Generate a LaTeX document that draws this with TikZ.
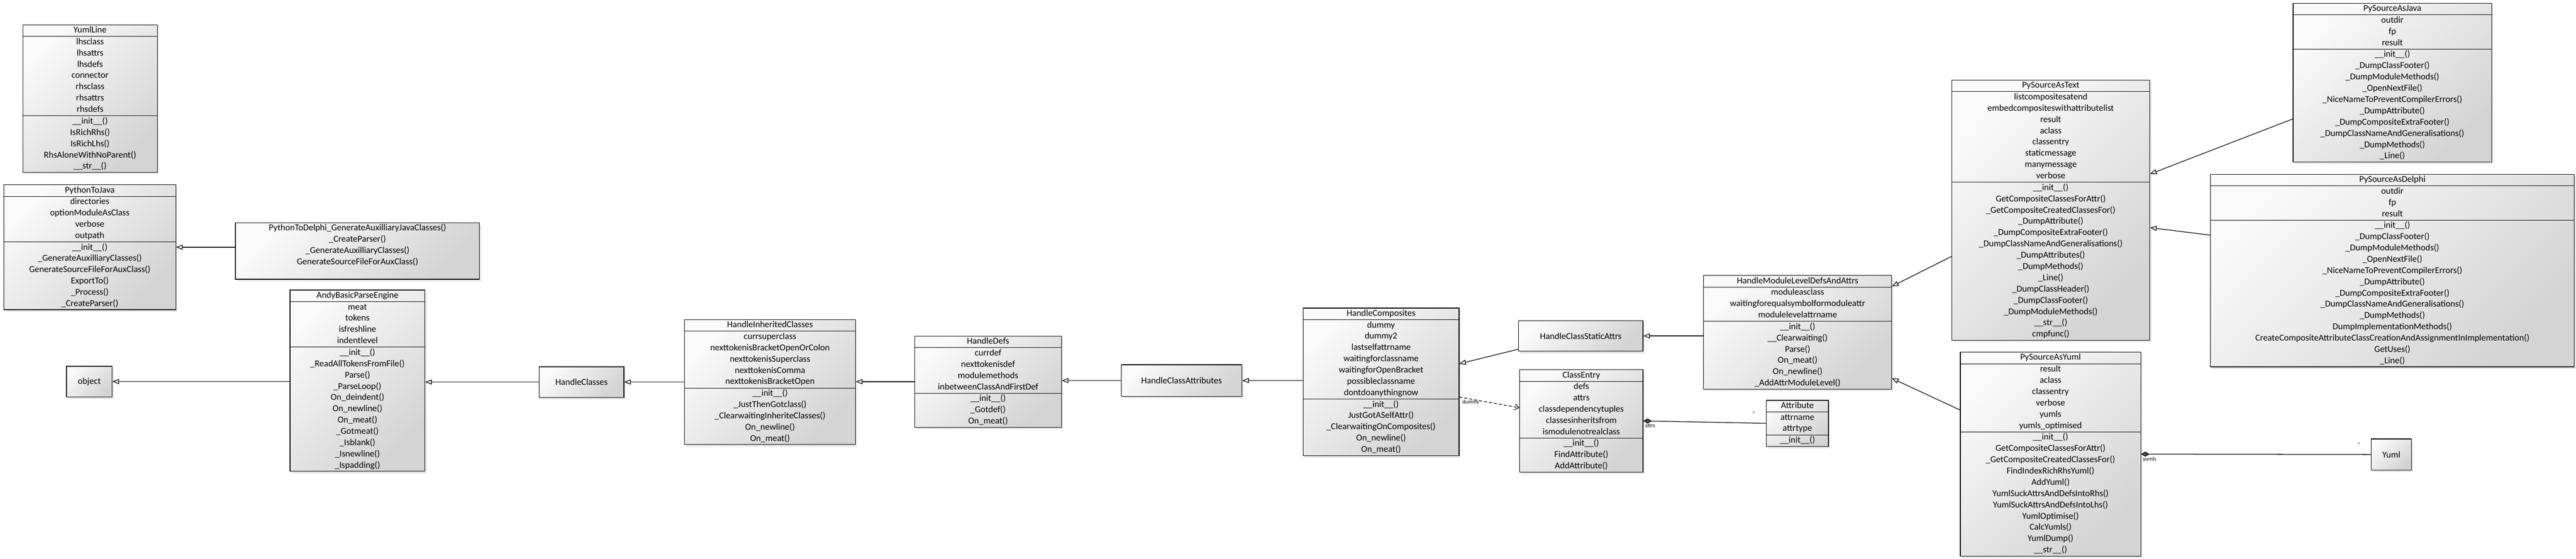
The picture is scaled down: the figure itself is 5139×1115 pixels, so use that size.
\documentclass[tikz,border=0pt]{standalone}
\usepackage{fontspec}
\setmainfont{Carlito}
\usepackage{array}
\usepackage{tikz}
\usetikzlibrary{arrows.meta,shadows}
\hyphenpenalty=10000
\exhyphenpenalty=10000
\newcommand{\cls}[2]{\begin{tabular}{@{}>{\centering\arraybackslash}p{#1}@{}}#2\end{tabular}}

\begin{document}
\begin{tikzpicture}[x=0.5pt,y=-0.5pt,line width=0.65pt,
		cbox/.style={draw, anchor=north west, inner sep=0pt, top color=black!2, bottom color=black!17, shading angle=45,
			drop shadow={opacity=0.22,shadow xshift=1.5pt,shadow yshift=-2pt}, font=\fontsize{9}{11.25}\selectfont},
		lbl/.style={inner sep=0.5pt, font=\fontsize{5.5}{6}\selectfont},
		isa/.style={-{Triangle[open,length=6.5pt,width=5pt]}},
		dep/.style={dash pattern=on 3pt off 2pt, -{Straight Barb[length=4pt,width=6pt]}},
		has/.style={{Diamond[length=8.5pt,width=5pt,fill=black!70]}-}]
	\useasboundingbox (0,0) rectangle (5139,1115);
	\node[cbox] (yline) at (45,49) {\cls{134pt}{YumlLine\\\hline lhsclass\\lhsattrs\\lhsdefs\\connector\\rhsclass\\rhsattrs\\rhsdefs\\\hline
		\_\_init\_\_()\\IsRichRhs()\\IsRichLhs()\\RhsAloneWithNoParent()\\\_\_str\_\_()}};
	\node[cbox] (ptj) at (7,368) {\cls{171.5pt}{PythonToJava\\\hline directories\\optionModuleAsClass\\verbose\\outpath\\\hline
		\_\_init\_\_()\\\_GenerateAuxilliaryClasses()\\GenerateSourceFileForAuxClass()\\ExportTo()\\\_Process()\\\_CreateParser()}};
	\node[cbox] (ptd) at (469,444) {\cls{243.5pt}{PythonToDelphi\_GenerateAuxilliaryJavaClasses()\\\_CreateParser()\\\_GenerateAuxilliaryClasses()\\GenerateSourceFileForAuxClass()\\ ~}};
	\node[cbox, minimum width=45.5pt, minimum height=30.5pt] (obj) at (132,730) {object};
	\node[cbox] (andy) at (578,578) {\cls{134.5pt}{AndyBasicParseEngine\\\hline meat\\tokens\\isfreshline\\indentlevel\\\hline
		\_\_init\_\_()\\\_ReadAllTokensFromFile()\\Parse()\\\_ParseLoop()\\On\_deindent()\\On\_newline()\\On\_meat()\\\_Gotmeat()\\\_Isblank()\\\_Isnewline()\\\_Ispadding()}};
	\node[cbox, minimum width=84.5pt, minimum height=30.5pt] (hcls) at (1075,731) {HandleClasses};
	\node[cbox] (hinh) at (1365,637) {\cls{170.5pt}{HandleInheritedClasses\\\hline currsuperclass\\nexttokenisBracketOpenOrColon\\nexttokenisSuperclass\\nexttokenisComma\\nexttokenisBracketOpen\\\hline
		\_\_init\_\_()\\\_JustThenGotclass()\\\_ClearwaitingInheriteClasses()\\On\_newline()\\On\_meat()}};
	\node[cbox] (hdefs) at (1824,670) {\cls{146.5pt}{HandleDefs\\\hline currdef\\nexttokenisdef\\modulemethods\\inbetweenClassAndFirstDef\\\hline
		\_\_init\_\_()\\\_Gotdef()\\On\_meat()}};
	\node[cbox, minimum width=120.5pt, minimum height=31.5pt] (hattrs) at (2236,727) {HandleClassAttributes};
	\node[cbox] (hcomp) at (2599,614) {\cls{155.5pt}{HandleComposites\\\hline dummy\\dummy2\\lastselfattrname\\waitingforclassname\\waitingforOpenBracket\\possibleclassname\\dontdoanythingnow\\\hline
		\_\_init\_\_()\\JustGotASelfAttr()\\\_ClearwaitingOnComposites()\\On\_newline()\\On\_meat()}};
	\node[cbox, minimum width=124pt, minimum height=30.5pt] (hstatic) at (3029,639) {HandleClassStaticAttrs};
	\node[cbox] (centry) at (3031,737) {\cls{123pt}{ClassEntry\\\hline defs\\attrs\\classdependencytuples\\classesinheritsfrom\\ismodulenotrealclass\\\hline
		\_\_init\_\_()\\FindAttribute()\\AddAttribute()}};
	\node[cbox] (attr) at (3523,798) {\cls{62pt}{Attribute\\\hline attrname\\attrtype\\\hline \_\_init\_\_()}};
	\node[cbox] (hml) at (3398,549) {\cls{187.5pt}{HandleModuleLevelDefsAndAttrs\\\hline moduleasclass\\waitingforequalsymbolformoduleattr\\modulelevelattrname\\\hline
		\_\_init\_\_()\\\_\_Clearwaiting()\\Parse()\\On\_meat()\\On\_newline()\\\_AddAttrModuleLevel()}};
	\node[cbox] (htext) at (3893,159) {\cls{197.5pt}{PySourceAsText\\\hline listcompositesatend\\embedcompositeswithattributelist\\result\\aclass\\classentry\\staticmessage\\manymessage\\verbose\\\hline
		\_\_init\_\_()\\GetCompositeClassesForAttr()\\\_GetCompositeCreatedClassesFor()\\\_DumpAttribute()\\\_DumpCompositeExtraFooter()\\\_DumpClassNameAndGeneralisations()\\\_DumpAttributes()\\\_DumpMethods()\\\_Line()\\\_DumpClassHeader()\\\_DumpClassFooter()\\\_DumpModuleMethods()\\\_\_str\_\_()\\cmpfunc()}};
	\node[cbox] (java) at (4574,6) {\cls{198pt}{PySourceAsJava\\\hline outdir\\fp\\result\\\hline
		\_\_init\_\_()\\\_DumpClassFooter()\\\_DumpModuleMethods()\\\_OpenNextFile()\\\_NiceNameToPreventCompilerErrors()\\\_DumpAttribute()\\\_DumpCompositeExtraFooter()\\\_DumpClassNameAndGeneralisations()\\\_DumpMethods()\\\_Line()}};
	\node[cbox] (delphi) at (4409,347) {\cls{363pt}{PySourceAsDelphi\\\hline outdir\\fp\\result\\\hline
		\_\_init\_\_()\\\_DumpClassFooter()\\\_DumpModuleMethods()\\\_OpenNextFile()\\\_NiceNameToPreventCompilerErrors()\\\_DumpAttribute()\\\_DumpCompositeExtraFooter()\\\_DumpClassNameAndGeneralisations()\\\_DumpMethods()\\DumpImplementationMethods()\\CreateCompositeAttributeClassCreationAndAssignmentInImplementation()\\GetUses()\\\_Line()}};
	\node[cbox] (hyuml) at (3910,702) {\cls{180pt}{PySourceAsYuml\\\hline result\\aclass\\classentry\\verbose\\yumls\\yumls\_optimised\\\hline
		\_\_init\_\_()\\GetCompositeClassesForAttr()\\\_GetCompositeCreatedClassesFor()\\FindIndexRichRhsYuml()\\AddYuml()\\YumlSuckAttrsAndDefsIntoRhs()\\YumlSuckAttrsAndDefsIntoLhs()\\YumlOptimise()\\CalcYumls()\\YumlDump()\\\_\_str\_\_()}};
	\node[cbox, minimum width=40pt, minimum height=31pt] (yuml) at (4730,875) {Yuml};

	\draw[isa] (ptd.west |- ptj.east) -- (ptj.east);
	\draw[isa] (andy.west |- obj.east) -- (obj.east);
	\draw[isa] (hcls.west) -- (hcls.west -| andy.east);
	\draw[isa] (hinh.west |- hcls.east) -- (hcls.east);
	\draw[isa] (hdefs.west) -- (hdefs.west -| hinh.east);
	\draw[isa] (hattrs.west) -- (hattrs.west -| hdefs.east);
	\draw[isa] (hcomp.west |- hattrs.east) -- (hattrs.east);
	\draw[isa] (hstatic.192.5) -- (hcomp.13.5);
	\draw[isa] (hstatic.east -| hml.west) -- (hstatic.east);
	\draw[dep] (hcomp.-11) -- node[lbl, at start, anchor=north west, xshift=2pt, yshift=-2pt] {dummy} (centry.168.5);
	\draw[has] (centry.east) -- node[lbl, at start, anchor=north west, xshift=1pt, yshift=-2pt] {attrs}
		node[lbl, at end, anchor=south east, xshift=-10pt, yshift=7pt] {*} (attr.west);
	\draw[isa] (htext.205.5) -- (hml.26.5);
	\draw[isa] (hyuml.154.3) -- (hml.-26);
	\draw[isa] (java.200.6) -- (htext.20.8);
	\draw[isa] (delphi.169.8) -- (htext.-10.6);
	\draw[has] (hyuml.east) -- node[lbl, at start, anchor=north west, xshift=1pt, yshift=-2pt] {yumls}
		node[lbl, at end, anchor=south east, xshift=-10pt, yshift=7pt] {*} (yuml.west);
\end{tikzpicture}
\end{document}
